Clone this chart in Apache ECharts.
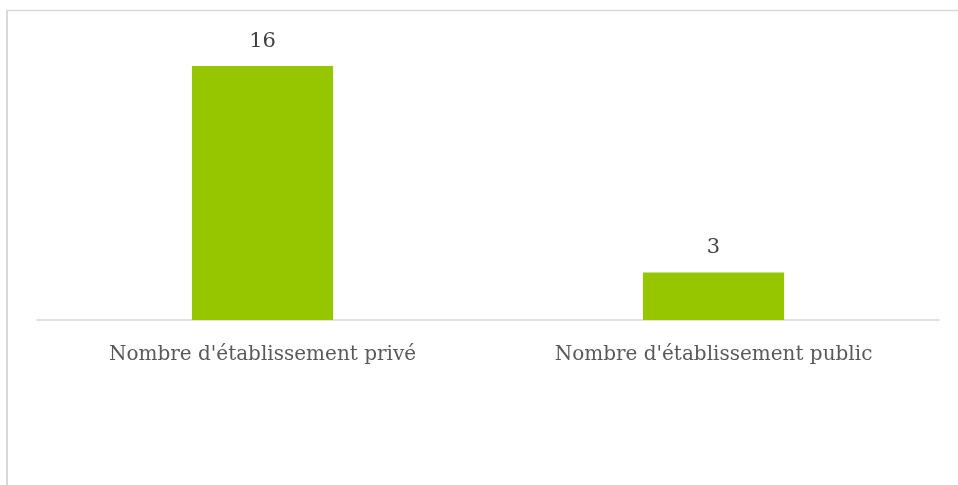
<!DOCTYPE html>
<html>
<head>
<meta charset="utf-8">
<script src="https://cdn.jsdelivr.net/npm/echarts@6/dist/echarts.min.js"></script>
<style>
  html, body { margin: 0; padding: 0; background: #fff; }
  #chart { width: 958px; height: 485px; }
</style>
</head>
<body>
<div id="chart"></div>
<script>
// données du graphique
const categories = ["Nombre d'établissement privé", "Nombre d'établissement public"];
const values = [16, 3];

const chart = echarts.init(document.getElementById('chart'));

const option = {
  animation: false,
  graphic: [
    // cadre (haut + gauche)
    { type: 'line', shape: { x1: 7, y1: 10.5, x2: 958, y2: 10.5 }, style: { stroke: '#d9d9d9', lineWidth: 1.5 } },
    { type: 'line', shape: { x1: 7, y1: 10, x2: 7, y2: 485 }, style: { stroke: '#d9d9d9', lineWidth: 2 } }
  ],
  grid: { left: 37, right: 19, top: 66, bottom: 165 },
  xAxis: {
    type: 'category',
    data: categories,
    axisLine: { lineStyle: { color: '#d9d9d9', width: 1.5 } },
    axisTick: { show: false },
    axisLabel: {
      color: '#595959',
      fontFamily: 'DejaVu Serif',
      fontSize: 20,
      margin: 25
    }
  },
  yAxis: {
    type: 'value',
    min: 0,
    max: 16,
    show: false
  },
  series: [
    {
      type: 'bar',
      data: values,
      barWidth: '31.3%',
      itemStyle: { color: '#95c600' },
      label: {
        show: true,
        position: 'top',
        distance: 14,
        color: '#404040',
        fontFamily: 'DejaVu Serif',
        fontSize: 21
      }
    }
  ]
};
chart.setOption(option);
</script>
</body>
</html>
